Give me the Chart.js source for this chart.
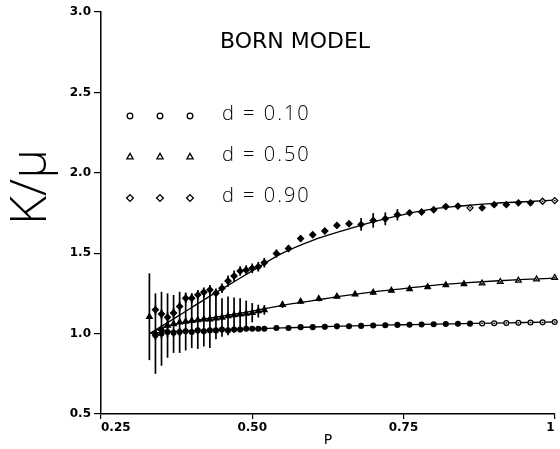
<!DOCTYPE html>
<html>
<head>
<meta charset="utf-8">
<script src="https://cdn.jsdelivr.net/npm/chart.js@4/dist/chart.umd.min.js"></script>
<style>
  html, body { margin: 0; padding: 0; background: #fff; }
  #wrap { width: 560px; height: 449px; }
</style>
</head>
<body>
<div id="wrap"><canvas id="c" width="560" height="449"></canvas></div>
<script>
// Born model: ratio K/mu against occupation probability P for three values of d.

// simulated points, d = 0.10 and d = 0.90 share one grid of P
const pD10 = [0.34,0.35,0.36,0.37,0.38,0.39,0.40,0.41,0.42,0.43,0.44,0.45,0.46,0.47,0.48,0.49,0.50,0.51,0.52,
              0.54,0.56,0.58,0.60,0.62,0.64,0.66,0.68,0.70,0.72,0.74,0.76,0.78,0.80,0.82,0.84,0.86,0.88,0.90,0.92,0.94,0.96,0.98,1.00];
const kD10 = [0.99,1.00,1.01,1.005,1.01,1.015,1.01,1.02,1.015,1.02,1.02,1.025,1.02,1.025,1.025,1.03,1.03,1.03,1.03,
              1.035,1.035,1.04,1.04,1.042,1.045,1.046,1.048,1.05,1.052,1.054,1.055,1.057,1.058,1.06,1.061,1.062,1.063,1.064,1.066,1.067,1.069,1.07,1.072];
const eD10 = [0.03,0.03,0.03,0.025,0.025,0.02,0.02,0.02,0.02,0.015,0.015,0.015,0.015,0.012,0.012,0.012,0.01,0.01,0.01,
              0.01,0.01,0.01,0.01,0.01,0.01,0.01,0.01,0.01,0.01,0.01,0.01,0.01,0.01,0.01,0.01,0.01,0.004,0.004,0.004,0.004,0.004,0.004,0.004];

const pD50 = [0.33,0.34,0.35,0.36,0.37,0.38,0.39,0.40,0.41,0.42,0.43,0.44,0.45,0.46,0.47,0.48,0.49,0.50,0.51,0.52,
              0.55,0.58,0.61,0.64,0.67,0.70,0.73,0.76,0.79,0.82,0.85,0.88,0.91,0.94,0.97,1.00];
const kD50 = [1.105,1.00,1.03,1.05,1.06,1.07,1.075,1.08,1.085,1.09,1.09,1.095,1.10,1.11,1.115,1.12,1.125,1.13,1.14,1.147,
              1.179,1.200,1.216,1.231,1.245,1.256,1.268,1.278,1.290,1.302,1.309,1.313,1.323,1.330,1.338,1.348];
const eD50 = [0.27,0.25,0.23,0.20,0.18,0.19,0.18,0.17,0.18,0.17,0.18,0.13,0.12,0.12,0.11,0.10,0.08,0.06,0.04,0.03,
              0.02,0.015,0.015,0.012,0.012,0.012,0.012,0.012,0.012,0.012,0.012,0.004,0.004,0.004,0.004,0.004];

const pD90 = pD10;
const kD90 = [1.148,1.122,1.101,1.128,1.169,1.220,1.220,1.241,1.257,1.272,1.251,1.282,1.327,1.358,1.389,1.395,1.406,1.416,1.441,
              1.498,1.529,1.591,1.615,1.638,1.673,1.683,1.679,1.704,1.714,1.739,1.751,1.756,1.770,1.790,1.793,1.782,1.782,1.802,1.802,1.813,1.813,1.823,1.827];
const eD90 = [0.03,0.03,0.03,0.03,0.03,0.03,0.03,0.03,0.03,0.03,0.03,0.03,0.035,0.035,0.03,0.03,0.03,0.03,0.03,
              0.025,0.02,0.02,0.015,0.015,0.012,0.012,0.04,0.045,0.04,0.035,0.012,0.012,0.012,0.012,0.012,0.004,0.01,0.01,0.01,0.01,0.01,0.004,0.004];

// theoretical curves
const pTheory   = [0.33,0.35,0.38,0.42,0.46,0.50,0.55,0.60,0.65,0.70,0.75,0.80,0.85,0.90,0.95,1.00];
const kTheory10 = [1.00,1.008,1.015,1.02,1.025,1.03,1.035,1.041,1.046,1.051,1.055,1.059,1.062,1.065,1.069,1.072];
const kTheory50 = [1.00,1.035,1.065,1.09,1.115,1.14,1.175,1.205,1.235,1.26,1.28,1.30,1.315,1.327,1.337,1.345];
const kTheory90 = [1.00,1.045,1.115,1.21,1.30,1.39,1.50,1.58,1.64,1.695,1.74,1.775,1.795,1.81,1.82,1.83];

// axis ticks
const xTickValues = [0.25, 0.50, 0.75, 1.00];
const xTickLabels = ['0.25', '0.50', '0.75', '1'];
const yTickValues = [0.5, 1.0, 1.5, 2.0, 2.5, 3.0];
const yTickLabels = ['0.5', '1.0', '1.5', '2.0', '2.5', '3.0'];

const seriesLabels = ['d = 0.10', 'd = 0.50', 'd = 0.90'];
const pointStyles  = ['circle', 'triangle', 'rectRot'];
const pointSizes   = [2.4, 3.2, 3.0];

const toXY = (xs, ys) => xs.map((x, i) => ({ x: x, y: ys[i] }));

function pointsDataset(label, xs, ys, errs, idx) {
  return {
    type: 'line',
    label: label,
    data: toXY(xs, ys),
    errors: errs,
    showLine: false,
    pointStyle: pointStyles[idx],
    pointRadius: pointSizes[idx],
    borderColor: '#000',
    borderWidth: 1.3,
    pointBorderWidth: 1.3,
    pointBackgroundColor: (c) => (errs[c.dataIndex] >= 0.01 ? '#000' : '#fff'),
    order: 1,
    clip: false
  };
}

function curveDataset(label, ys) {
  return {
    type: 'line',
    label: label,
    data: toXY(pTheory, ys),
    borderColor: '#000',
    borderWidth: 1.3,
    pointRadius: 0,
    cubicInterpolationMode: 'monotone',
    fill: false,
    order: 2
  };
}

// vertical error bars for every simulated point
const errorBars = {
  id: 'errorBars',
  afterDatasetsDraw(chart) {
    const ctx = chart.ctx;
    const ys = chart.scales.y;
    ctx.save();
    ctx.strokeStyle = '#000';
    ctx.lineWidth = 1.7;
    chart.data.datasets.forEach((ds, di) => {
      if (!ds.errors) return;
      const meta = chart.getDatasetMeta(di);
      meta.data.forEach((pt, i) => {
        const v = ds.data[i].y, e = ds.errors[i];
        ctx.beginPath();
        ctx.moveTo(pt.x, ys.getPixelForValue(v - e));
        ctx.lineTo(pt.x, ys.getPixelForValue(v + e));
        ctx.stroke();
      });
    });
    ctx.restore();
  }
};

// heading, key and vertical axis caption
const decorations = {
  id: 'decorations',
  afterDraw(chart) {
    const ctx = chart.ctx;
    ctx.save();
    ctx.textBaseline = 'middle';

    ctx.fillStyle = '#000';
    ctx.font = '22px "DejaVu Sans"';
    ctx.textAlign = 'center';
    ctx.fillText('BORN MODEL', 295, 42);

    const rows = [116, 157, 198];
    const cols = [130, 160, 190];
    rows.forEach((ry, r) => {
      cols.forEach((cx) => {
        ctx.fillStyle = '#fff';
        ctx.strokeStyle = '#000';
        ctx.lineWidth = 1.3;
        Chart.helpers.drawPoint(ctx, {
          pointStyle: pointStyles[r], radius: pointSizes[r] + 0.4, borderWidth: 1.3, rotation: 0
        }, cx, ry);
      });
      ctx.fillStyle = '#000';
      ctx.font = '300 20px "Open Sans"';
      ctx.letterSpacing = '2px';
      ctx.textAlign = 'left';
      ctx.fillText(seriesLabels[r], 222, ry - 2);
      ctx.letterSpacing = '0px';
    });

    ctx.fillStyle = '#000';
    ctx.translate(32, 187);
    ctx.rotate(-Math.PI / 2);
    ctx.font = '300 50px "Open Sans"';
    ctx.textAlign = 'center';
    ctx.fillText('K/\u03bc', 0, 0);
    ctx.restore();
  }
};

const tickFont = { family: '"DejaVu Sans"', size: 12, weight: 'bold' };

new Chart(document.getElementById('c'), {
  type: 'scatter',
  data: {
    datasets: [
      curveDataset('theory d = 0.10', kTheory10),
      curveDataset('theory d = 0.50', kTheory50),
      curveDataset('theory d = 0.90', kTheory90),
      pointsDataset(seriesLabels[0], pD10, kD10, eD10, 0),
      pointsDataset(seriesLabels[1], pD50, kD50, eD50, 1),
      pointsDataset(seriesLabels[2], pD90, kD90, eD90, 2)
    ]
  },
  options: {
    responsive: false,
    animation: false,
    events: [],
    layout: { padding: { top: 12, right: 4, left: 0, bottom: 0 } },
    plugins: { legend: { display: false }, tooltip: { enabled: false }, title: { display: false } },
    scales: {
      x: {
        type: 'linear',
        min: 0.25, max: 1.0,
        afterBuildTicks: (s) => { s.ticks = xTickValues.map(v => ({ value: v })); },
        afterFit: (s) => { s.height = 35; },
        ticks: {
          color: '#000', font: tickFont, padding: 2, align: 'inner', maxRotation: 0,
          callback: (v, i) => xTickLabels[i]
        },
        grid: { drawOnChartArea: false, drawTicks: true, tickLength: 5, color: '#000', lineWidth: 1.2 },
        border: { display: true, color: '#000', width: 1.5 },
        title: { display: true, text: 'P', color: '#000', font: { family: '"DejaVu Sans"', size: 14 }, padding: { top: 0, bottom: 0 } }
      },
      y: {
        type: 'linear',
        min: 0.5, max: 3.0,
        afterBuildTicks: (s) => { s.ticks = yTickValues.map(v => ({ value: v })); },
        afterFit: (s) => { s.width = 101; },
        ticks: {
          color: '#000', font: tickFont, padding: 3,
          callback: (v, i) => yTickLabels[i]
        },
        grid: { drawOnChartArea: false, drawTicks: true, tickLength: 7, color: '#000', lineWidth: 1.2 },
        border: { display: true, color: '#000', width: 1.5 }
      }
    }
  },
  plugins: [errorBars, decorations]
});
</script>
</body>
</html>
